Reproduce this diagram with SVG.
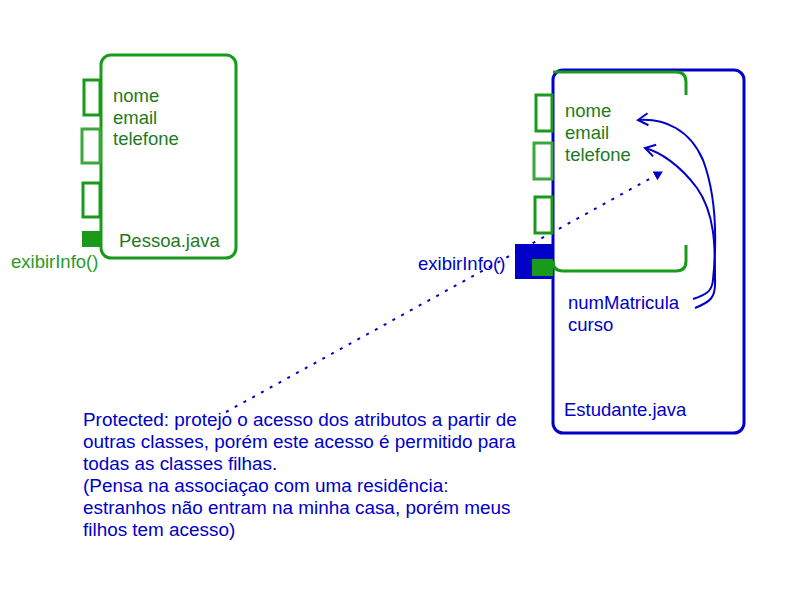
<svg xmlns="http://www.w3.org/2000/svg" width="800" height="600" viewBox="0 0 800 600">
<defs>
<style>
.g{fill:none;stroke:#1a9a1a;stroke-width:3}
.gl{fill:none;stroke:#3aa83a;stroke-width:3}
.b{fill:none;stroke:#0000c8;stroke-width:3}
.tg{font-family:"Liberation Sans",Arial,sans-serif;font-size:18.5px;fill:#1e7a1e}
.tb{font-family:"Liberation Sans",Arial,sans-serif;font-size:18.5px;fill:#0000c8}
.note{font-size:18.9px}
.curve{fill:none;stroke:#0000c8;stroke-width:2}
</style>
<marker id="tri" markerWidth="10" markerHeight="10" refX="8" refY="5" orient="auto" markerUnits="userSpaceOnUse">
<path d="M0,0 L9,5 L0,10 Z" fill="#0000c8"/>
</marker>
<marker id="open" markerWidth="16" markerHeight="16" refX="11" refY="8" orient="auto" markerUnits="userSpaceOnUse">
<path d="M1,2 L11,8 L1,14" fill="none" stroke="#0000c8" stroke-width="2"/>
</marker>
</defs>
<rect width="800" height="600" fill="#fff"/>

<g id="connectors">
<line x1="226" y1="412" x2="662" y2="172" stroke="#0000c8" stroke-width="2" stroke-dasharray="3,7" marker-end="url(#tri)"/>
</g>

<g id="pessoa">
<rect x="101" y="55" width="135" height="203" rx="10" class="g"/>
<rect x="84" y="80" width="16" height="35" class="g"/>
<rect x="82" y="129" width="18" height="34" class="gl"/>
<rect x="83" y="183" width="17" height="34" class="g"/>
<rect x="82" y="231" width="19" height="16" fill="#1a9a1a"/>
<text x="113" y="102" class="tg">nome</text>
<text x="113" y="124" class="tg">email</text>
<text x="113" y="145" class="tg">telefone</text>
<text x="119" y="247" class="tg">Pessoa.java</text>
<text x="11" y="268" class="tg" style="fill:#2a9a2a">exibirInfo()</text>
</g>

<g id="estudante">
<rect x="553" y="70" width="191" height="363" rx="10" class="b"/>
<path d="M553,72 L676,72 Q686,72 686,82 L686,95" class="g"/>
<path d="M686,245 L686,261 Q686,271 676,271 L563,271 Q553,271 553,261" class="g"/>
<rect x="536" y="95" width="16" height="36" class="g"/>
<rect x="534" y="143" width="18" height="36" class="gl"/>
<rect x="535" y="197" width="17" height="36" class="g"/>
<rect x="515" y="244" width="38" height="35" fill="#0000c8"/>
<rect x="532" y="259" width="21" height="17" fill="#1a9a1a"/>
<text x="565" y="117" class="tg">nome</text>
<text x="565" y="139" class="tg">email</text>
<text x="565" y="161" class="tg">telefone</text>
<text x="418" y="270" class="tb">exibirInfo()</text>
<text x="568" y="309" class="tb">numMatricula</text>
<text x="568" y="331" class="tb">curso</text>
<text x="564" y="416" class="tb">Estudante.java</text>
</g>

<g id="arrows">
<path d="M693,299 C705,295 712,292 713,280 C716,250 718,200 703,160 C690,130 665,118 638,120" class="curve" marker-end="url(#open)"/>
<path d="M695,308 C710,302 716,298 715,280 C715,250 716,215 697,188 C680,165 660,152 645,148" class="curve" marker-end="url(#open)"/>
</g>

<g id="note">
<text class="tb note">
<tspan x="83" y="426">Protected: protejo o acesso dos atributos a partir de</tspan>
<tspan x="83" y="448">outras classes, porém este acesso é permitido para</tspan>
<tspan x="83" y="470">todas as classes filhas.</tspan>
<tspan x="83" y="492">(Pensa na associaçao com uma residência:</tspan>
<tspan x="83" y="514">estranhos não entram na minha casa, porém meus</tspan>
<tspan x="83" y="536">filhos tem acesso)</tspan>
</text>
</g>
</svg>
